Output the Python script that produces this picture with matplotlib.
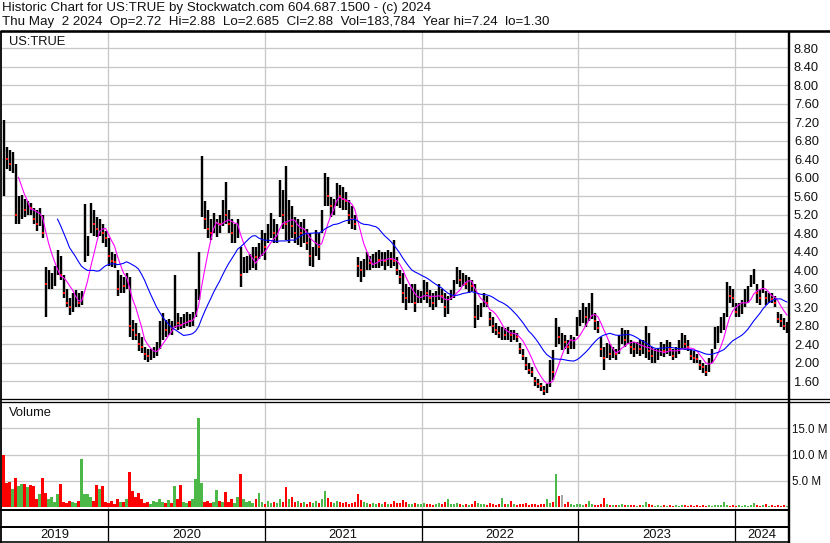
import numpy as np
import pandas as pd
import matplotlib
matplotlib.use("Agg")
import matplotlib.pyplot as plt
import matplotlib.dates as mdates
from matplotlib.lines import Line2D

plt.rcParams['font.family'] = ['Liberation Sans', 'DejaVu Sans']

# ---- weekly price data for US:TRUE (high / low / close) ----
high = [
    7.24, 6.67, 6.60, 6.55, 6.30, 5.60, 5.63, 5.55, 5.50, 5.45,
    5.35, 5.30, 5.35, 5.20, 4.07, 4.00, 3.95, 4.10, 4.44, 4.30,
    3.90, 3.60, 3.40, 3.50, 3.58, 3.50, 3.55, 5.43, 4.75, 5.45,
    5.30, 5.15, 5.10, 5.00, 4.85, 4.70, 4.40, 4.35, 4.00, 3.90,
    3.85, 3.94, 3.86, 2.93, 2.85, 2.64, 2.55, 2.34, 2.30, 2.30,
    2.35, 2.45, 2.90, 3.08, 2.93, 2.95, 2.90, 3.90, 3.08, 3.00,
    3.05, 3.10, 3.05, 3.10, 3.60, 4.40, 6.47, 5.50, 5.30, 5.10,
    5.24, 5.10, 5.20, 5.52, 5.91, 5.30, 5.10, 5.00, 5.10, 4.50,
    4.29, 4.30, 4.35, 4.51, 4.50, 4.60, 4.87, 4.80, 5.00, 5.24,
    5.10, 5.00, 5.95, 5.74, 6.26, 5.52, 5.40, 5.15, 5.10, 5.05,
    5.10, 4.90, 4.80, 4.50, 4.87, 4.80, 5.30, 6.10, 6.02, 5.58,
    5.55, 5.88, 5.85, 5.80, 5.70, 5.52, 5.40, 5.20, 4.29, 4.20,
    4.25, 4.40, 4.30, 4.35, 4.40, 4.44, 4.40, 4.40, 4.44, 4.40,
    4.65, 4.29, 4.00, 3.94, 3.70, 3.64, 3.70, 3.70, 3.58, 3.55,
    3.80, 3.75, 3.58, 3.50, 3.55, 3.70, 3.60, 3.51, 3.45, 3.58,
    3.80, 4.07, 4.00, 3.95, 3.90, 3.86, 3.80, 3.70, 3.25, 3.30,
    3.51, 3.45, 3.10, 3.00, 2.86, 2.80, 2.78, 2.75, 2.78, 2.71,
    2.70, 2.65, 2.43, 2.30, 2.12, 2.00, 1.90, 1.69, 1.65, 1.56,
    1.50, 1.55, 2.06, 2.28, 2.97, 2.78, 2.64, 2.60, 2.50, 2.60,
    2.55, 3.00, 3.15, 3.30, 3.20, 3.30, 3.51, 3.08, 2.90, 2.56,
    2.34, 2.43, 2.40, 2.35, 2.30, 2.60, 2.75, 2.70, 2.70, 2.49,
    2.45, 2.45, 2.49, 2.50, 2.80, 2.64, 2.34, 2.30, 2.30, 2.45,
    2.40, 2.49, 2.45, 2.30, 2.35, 2.50, 2.64, 2.60, 2.50, 2.28,
    2.25, 2.20, 2.06, 2.00, 1.95, 2.10, 2.30, 2.78, 2.80, 3.00,
    3.08, 3.75, 3.66, 3.60, 3.30, 3.30, 3.35, 3.60, 3.65, 3.90,
    4.03, 3.70, 3.60, 3.80, 3.55, 3.50, 3.50, 3.45, 3.10, 3.05,
    2.97, 2.88,
]
low = [
    5.60, 6.20, 6.15, 6.10, 5.00, 5.00, 5.10, 5.15, 5.20, 5.20,
    5.00, 4.85, 4.95, 4.70, 3.00, 3.60, 3.60, 3.65, 3.90, 3.80,
    3.40, 3.20, 3.03, 3.10, 3.20, 3.20, 3.25, 4.18, 4.30, 4.80,
    4.75, 4.72, 4.75, 4.60, 4.50, 4.10, 4.07, 4.05, 3.45, 3.50,
    3.50, 3.60, 2.56, 2.50, 2.49, 2.25, 2.21, 2.05, 2.02, 2.05,
    2.10, 2.15, 2.30, 2.50, 2.56, 2.60, 2.60, 2.75, 2.71, 2.72,
    2.75, 2.80, 2.78, 2.80, 3.00, 3.36, 5.15, 4.90, 4.70, 4.65,
    4.80, 4.72, 4.80, 4.95, 5.00, 4.80, 4.60, 4.59, 4.70, 3.64,
    3.94, 3.95, 4.00, 4.05, 4.01, 4.25, 4.30, 4.22, 4.60, 4.70,
    4.59, 4.60, 5.15, 4.90, 4.65, 4.60, 4.70, 4.60, 4.55, 4.51,
    4.60, 4.44, 4.10, 4.07, 4.30, 4.22, 4.80, 5.40, 5.40, 5.15,
    5.20, 5.40, 5.35, 5.30, 5.30, 5.00, 4.90, 4.87, 3.86, 3.75,
    3.85, 4.01, 4.01, 4.05, 4.05, 4.05, 4.10, 4.01, 4.10, 4.05,
    4.10, 3.90, 3.70, 3.30, 3.15, 3.30, 3.30, 3.10, 3.30, 3.30,
    3.35, 3.30, 3.20, 3.15, 3.20, 3.36, 3.30, 3.00, 3.05, 3.35,
    3.40, 3.70, 3.64, 3.65, 3.60, 3.51, 3.55, 2.75, 2.93, 3.00,
    3.20, 3.20, 2.80, 2.64, 2.60, 2.53, 2.50, 2.49, 2.50, 2.45,
    2.50, 2.45, 2.20, 2.06, 1.85, 1.75, 1.69, 1.50, 1.45, 1.40,
    1.30, 1.35, 1.47, 1.63, 2.34, 2.40, 2.28, 2.30, 2.20, 2.30,
    2.30, 2.58, 2.80, 2.85, 2.78, 2.90, 2.95, 2.70, 2.64, 2.12,
    1.85, 2.10, 2.06, 2.10, 2.06, 2.20, 2.40, 2.34, 2.40, 2.20,
    2.12, 2.20, 2.15, 2.20, 2.10, 2.06, 2.00, 2.00, 2.05, 2.15,
    2.12, 2.20, 2.15, 2.05, 2.10, 2.20, 2.30, 2.28, 2.25, 2.05,
    2.00, 2.00, 1.85, 1.78, 1.72, 1.80, 2.00, 2.30, 2.43, 2.64,
    2.70, 3.00, 3.30, 3.20, 3.00, 3.00, 3.05, 3.20, 3.30, 3.64,
    3.70, 3.30, 3.25, 3.50, 3.26, 3.30, 3.30, 3.20, 2.85, 2.78,
    2.70, 2.64,
]
close = [
    6.50, 6.40, 6.30, 6.40, 5.20, 5.25, 5.40, 5.30, 5.45, 5.35,
    5.10, 5.00, 5.20, 4.80, 3.70, 3.75, 3.80, 3.90, 4.20, 3.90,
    3.50, 3.30, 3.20, 3.35, 3.40, 3.30, 3.45, 4.50, 4.60, 5.10,
    5.00, 4.90, 4.95, 4.80, 4.70, 4.30, 4.20, 4.18, 3.60, 3.70,
    3.65, 3.80, 2.80, 2.70, 2.60, 2.40, 2.35, 2.20, 2.15, 2.20,
    2.25, 2.30, 2.70, 2.80, 2.70, 2.80, 2.75, 2.90, 2.85, 2.82,
    2.95, 2.97, 2.90, 3.00, 3.40, 4.20, 5.40, 5.10, 4.90, 4.80,
    5.00, 5.05, 5.00, 5.30, 5.20, 5.00, 4.80, 4.82, 4.90, 3.90,
    4.10, 4.15, 4.20, 4.30, 4.28, 4.45, 4.60, 4.50, 4.80, 4.90,
    4.80, 4.85, 5.50, 5.20, 5.00, 5.05, 4.95, 4.80, 4.90, 4.80,
    4.90, 4.60, 4.30, 4.35, 4.60, 4.50, 5.10, 5.80, 5.60, 5.40,
    5.45, 5.65, 5.60, 5.55, 5.50, 5.20, 5.10, 5.00, 4.10, 4.00,
    4.10, 4.20, 4.15, 4.20, 4.25, 4.22, 4.30, 4.20, 4.30, 4.25,
    4.20, 4.00, 3.85, 3.50, 3.40, 3.45, 3.50, 3.30, 3.40, 3.42,
    3.60, 3.50, 3.40, 3.30, 3.40, 3.50, 3.45, 3.20, 3.30, 3.50,
    3.70, 3.90, 3.80, 3.82, 3.70, 3.72, 3.65, 3.00, 3.10, 3.20,
    3.35, 3.30, 2.95, 2.80, 2.70, 2.65, 2.67, 2.60, 2.65, 2.60,
    2.62, 2.55, 2.30, 2.15, 1.95, 1.85, 1.80, 1.60, 1.55, 1.50,
    1.40, 1.45, 1.90, 1.80, 2.65, 2.55, 2.55, 2.45, 2.35, 2.45,
    2.47, 2.80, 3.00, 3.10, 3.00, 3.10, 3.15, 2.90, 2.75, 2.30,
    2.10, 2.25, 2.20, 2.25, 2.20, 2.45, 2.55, 2.50, 2.55, 2.35,
    2.30, 2.35, 2.30, 2.35, 2.40, 2.25, 2.15, 2.17, 2.20, 2.30,
    2.25, 2.35, 2.30, 2.15, 2.20, 2.35, 2.45, 2.40, 2.35, 2.15,
    2.10, 2.08, 1.95, 1.90, 1.80, 2.00, 2.20, 2.60, 2.65, 2.85,
    2.90, 3.50, 3.45, 3.40, 3.10, 3.15, 3.20, 3.45, 3.50, 3.80,
    3.85, 3.50, 3.40, 3.60, 3.40, 3.42, 3.38, 3.30, 2.95, 2.90,
    2.80, 2.88,
]
# peak daily volume within each week, millions of shares
volume_m = [
    9.9, 4.5, 4.8, 3.5, 5.6, 4.0, 4.3, 4.4, 3.8, 4.2,
    4.0, 1.5, 2.4, 5.6, 2.7, 1.5, 2.0, 1.0, 2.5, 4.4,
    1.0, 0.8, 1.2, 1.0, 0.8, 1.1, 9.2, 2.4, 2.4, 2.0,
    1.2, 4.2, 3.5, 4.0, 1.0, 0.8, 1.2, 0.6, 1.5, 0.9,
    1.0, 1.5, 6.7, 3.0, 2.0, 2.7, 1.5, 0.8, 1.0, 0.6,
    1.2, 0.9, 1.5, 1.0, 0.7, 1.3, 0.8, 4.0, 1.5, 4.2,
    1.0, 0.8, 1.2, 1.5, 5.3, 16.9, 4.5, 1.0, 1.2, 0.8,
    1.0, 3.3, 1.2, 1.0, 2.8, 1.0, 1.5, 0.8, 2.0, 6.3,
    1.5, 1.0, 1.2, 0.8, 1.5, 2.6, 1.0, 0.6, 1.2, 0.8,
    1.0, 0.7, 1.5, 0.9, 3.8, 1.5, 2.0, 1.0, 1.2, 0.8,
    1.0, 0.6, 0.9, 0.7, 1.2, 0.8, 1.5, 3.0, 1.8, 1.0,
    0.8, 1.2, 0.9, 0.7, 1.0, 0.6, 0.8, 1.0, 2.5, 1.4,
    0.9, 0.7, 0.6, 0.8, 0.5, 0.7, 0.6, 0.9, 0.5, 0.6,
    1.2, 0.8, 0.7, 1.4, 0.9, 0.6, 0.5, 0.8, 0.6, 0.5,
    0.7, 0.5, 0.6, 0.4, 0.5, 0.7, 0.5, 0.9, 1.5, 0.6,
    0.5, 0.7, 0.6, 0.4, 0.5, 0.4, 0.6, 1.2, 0.7, 0.5,
    0.6, 0.4, 0.7, 0.5, 0.4, 0.6, 1.7, 0.5, 0.6, 1.1,
    0.5, 0.4, 0.6, 0.5, 0.7, 0.4, 0.5, 0.6, 0.4, 0.5,
    0.6, 1.5, 0.8, 0.9, 6.3, 2.1, 2.3, 0.6, 1.0, 0.5,
    0.4, 0.6, 0.5, 0.4, 0.5, 1.2, 0.5, 0.4, 0.3, 0.6,
    1.7, 0.6, 0.4, 0.3, 0.4, 0.3, 0.5, 0.3, 0.4, 0.3,
    0.3, 0.2, 0.3, 0.4, 1.0, 0.5, 0.3, 0.2, 0.3, 0.2,
    0.3, 0.2, 0.3, 0.2, 0.3, 0.2, 0.4, 0.3, 0.2, 0.3,
    0.2, 0.3, 0.2, 0.3, 0.2, 0.3, 0.2, 0.3, 0.4, 0.3,
    1.0, 0.3, 0.2, 0.3, 0.2, 0.3, 0.2, 0.3, 0.2, 0.3,
    0.7, 0.3, 0.2, 0.3, 0.5, 0.2, 0.3, 0.2, 0.3, 0.2,
    0.3, 0.18,
]

price_ticks = [1.6, 2.0, 2.4, 2.8, 3.2, 3.6, 4.0, 4.4, 4.8, 5.2, 5.6,
               6.0, 6.4, 6.8, 7.2, 7.6, 8.0, 8.4, 8.8]
volume_ticks = [5, 10, 15]
years = [2019, 2020, 2021, 2022, 2023, 2024]

header_1 = "Historic Chart for US:TRUE by Stockwatch.com 604.687.1500 - (c) 2024"
header_2 = ("Thu May  2 2024  Op=2.72  Hi=2.88  Lo=2.685  Cl=2.88  "
            "Vol=183,784  Year hi=7.24  lo=1.30")

# ---- layout helpers (pixel based) ----
W, H = 830, 543
fig = plt.figure(figsize=(W / 100, H / 100), dpi=100)
fig.patch.set_facecolor("white")
PX = 0.72  # one pixel in points


def box(left, top, right, bottom):
    return [left / W, 1 - bottom / H, (right - left) / W, (bottom - top) / H]


def hline(y, x0, x1, lw=1.0, color="black"):
    fig.add_artist(Line2D([x0 / W, x1 / W], [1 - y / H, 1 - y / H],
                          transform=fig.transFigure, color=color,
                          lw=lw * PX, solid_capstyle="butt"))


def vline(x, y0, y1, lw=1.0, color="black"):
    fig.add_artist(Line2D([x / W, x / W], [1 - y0 / H, 1 - y1 / H],
                          transform=fig.transFigure, color=color,
                          lw=lw * PX, solid_capstyle="butt"))


dates = pd.date_range(end="2024-05-02", periods=len(close), freq="7D")
xd = mdates.date2num(dates)
x_lo = xd[0] - 3.5
x_hi = xd[-1] + 5.0
year_starts = [mdates.date2num(pd.Timestamp(f"{y}-01-01")) for y in years[1:]]

close_s = pd.Series(close)
prev = close_s.shift(1)
down = (close_s < prev).to_numpy()
up = (close_s > prev).to_numpy()
ma_short = close_s.rolling(6).mean()
ma_long = close_s.rolling(19).mean()

GRID = "#c8c8c8"
FS = 9.3

# ---- price panel ----
ax = fig.add_axes(box(2, 32, 789, 399))
ax.set_xlim(x_lo, x_hi)
ax.set_ylim(1.217, 9.152)
for v in price_ticks:
    ax.axhline(v, color=GRID, lw=1.3 * PX, zorder=0)
for ys in year_starts:
    ax.axvline(ys, color=GRID, lw=1.3 * PX, zorder=0)
ax.vlines(xd, low, high, color="black", lw=2.4 * PX, zorder=2)
ax.plot(xd[down], close_s[down], "s", color="#ff0000", ms=1.9, mew=0, zorder=3)
ax.plot(xd, ma_short, color="#ff00ff", lw=1.1 * PX, zorder=4)
ax.plot(xd, ma_long, color="#0000ff", lw=1.1 * PX, zorder=4)
ax.set_xticks([])
ax.set_yticks(price_ticks)
ax.set_yticklabels([f"{v:.2f}" for v in price_ticks])
ax.tick_params(axis="y", left=False, labelleft=False, right=False,
               labelright=True, length=0, pad=3.6, labelsize=FS,
               labelcolor="#111111")
for s in ax.spines.values():
    s.set_visible(False)
ax.text(7 / 787, 1 - 10 / 367, "US:TRUE", transform=ax.transAxes,
        ha="left", va="center", fontsize=FS, color="#111111")

# ---- volume panel ----
axv = fig.add_axes(box(2, 401.5, 789, 509))
axv.set_xlim(x_lo, x_hi)
axv.set_ylim(-0.38, 20.1)
for v in volume_ticks:
    axv.axhline(v, color=GRID, lw=1.3 * PX, zorder=0)
for ys in year_starts:
    axv.axvline(ys, color=GRID, lw=1.3 * PX, zorder=0)
vol_colors = np.where(up, "#4cb848", np.where(down, "#ff0000", "#a8a8a8"))
vol_colors[0] = "#ff0000"
axv.bar(xd, volume_m, width=5.2, color=vol_colors, linewidth=0, zorder=2)
axv.set_xticks([])
axv.set_yticks(volume_ticks)
axv.set_yticklabels([f"{v:.1f} M" for v in volume_ticks])
axv.tick_params(axis="y", left=False, labelleft=False, right=False,
                labelright=True, length=0, pad=2.4, labelsize=8.3,
                labelcolor="#111111")
for s in axv.spines.values():
    s.set_visible(False)
axv.text(7 / 787, 1 - 12 / 107.5, "Volume", transform=axv.transAxes,
         ha="left", va="center", fontsize=FS, color="#111111")

# ---- year band ----
axy = fig.add_axes(box(2, 509, 789, 542))
axy.set_xlim(x_lo, x_hi)
axy.set_ylim(0, 1)
axy.axis("off")
bounds = [x_lo] + year_starts + [x_hi]
for i, yr in enumerate(years):
    axy.text((bounds[i] + bounds[i + 1]) / 2, 0.22, str(yr), ha="center",
             va="center", fontsize=FS, color="#111111")
for ys in year_starts:
    axy.axvline(ys, color="black", lw=1.3 * PX)

# ---- frame lines ----
hline(31, 0, W, lw=2.6)
hline(399.3, 0, W, lw=1.3)
hline(401.6, 0, W, lw=1.3)
hline(509.8, 0, 789, lw=2.0)
hline(527, 0, 789, lw=2.0)
hline(542, 0, 789, lw=1.6)
vline(789.3, 31, H, lw=2.4)
vline(0.8, 31, H, lw=1.8)

# ---- header ----
fig.text(2 / W, 1 - 8 / H, header_1, ha="left", va="center",
         fontsize=FS + 0.3, color="#111111")
fig.text(2 / W, 1 - 22 / H, header_2, ha="left", va="center",
         fontsize=FS + 0.3, color="#111111")

fig.savefig("out.png", dpi=100, facecolor="white")
